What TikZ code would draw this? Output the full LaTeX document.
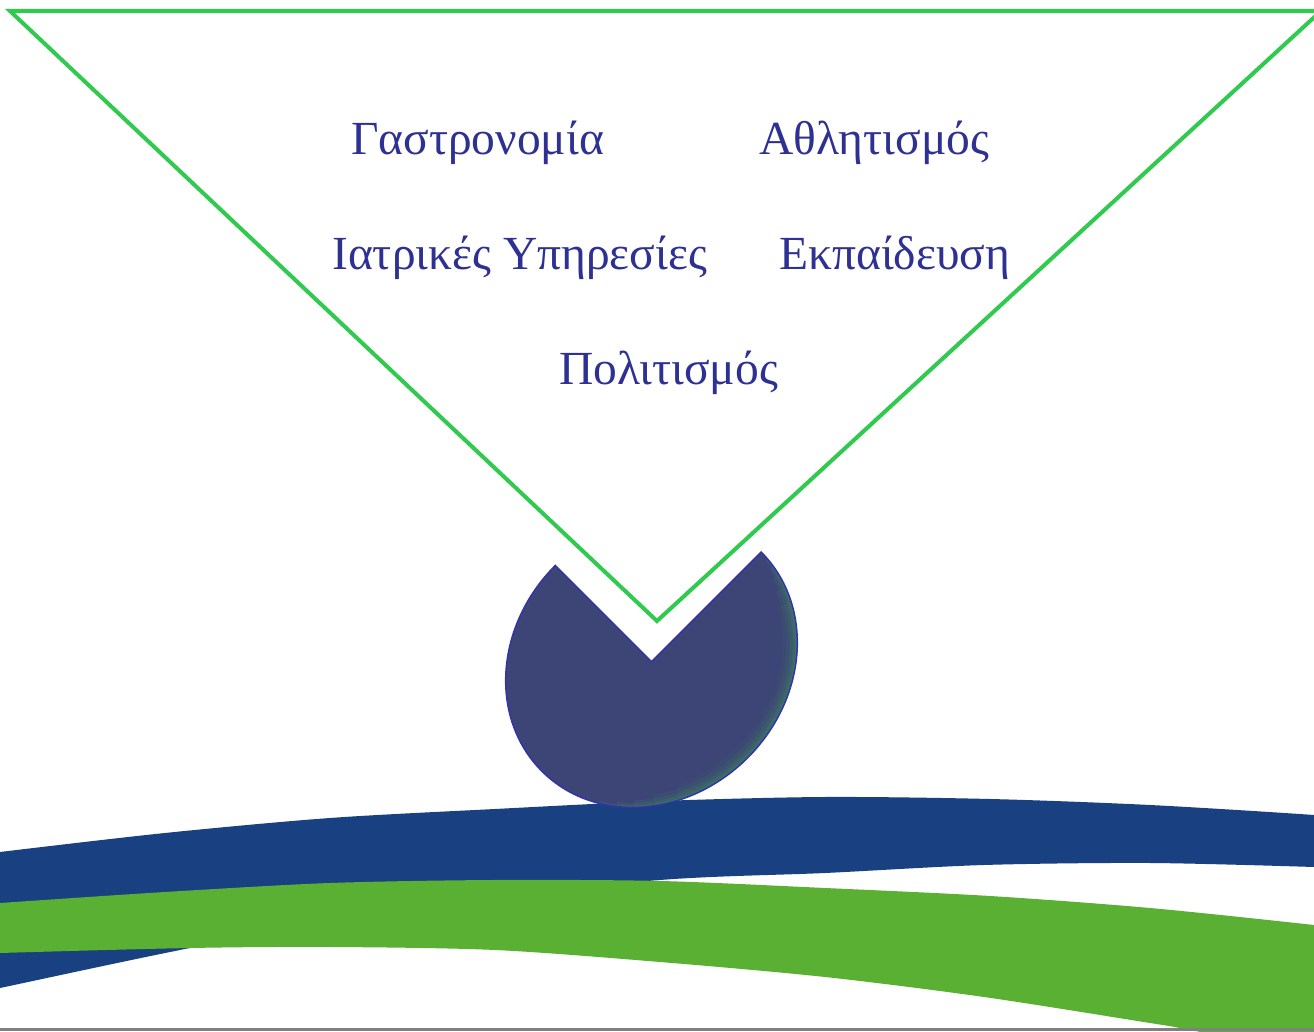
\documentclass[tikz,border=0pt]{standalone}
\usepackage{fontspec}
\setmainfont{Liberation Serif}
\definecolor{trigreen}{RGB}{48,202,78}
\definecolor{txtblue}{RGB}{46,49,146}
\definecolor{bandblue}{RGB}{25,64,128}
\definecolor{bandgreen}{RGB}{90,176,50}
\definecolor{pacfill}{RGB}{61,68,118}
\definecolor{pacedge}{RGB}{50,52,170}
\definecolor{glow}{RGB}{60,150,90}
\begin{document}
\begin{tikzpicture}[x=1pt,y=1pt,
  lbl/.style={text=txtblue, font=\fontsize{47.5}{57}\selectfont, inner sep=0pt, anchor=base west},
  triline/.style={draw=trigreen, line width=4, line join=miter},
  blueband/.style={fill=bandblue},
  greenband/.style={fill=bandgreen},
  baseline rule/.style={draw=gray, line width=3}]
\useasboundingbox (0,0) rectangle (1314,1031);
\fill[white] (0,0) rectangle (1314,1031);

% bottom bands
\begin{scope}
\clip (0,0) rectangle (1314,1031);
\fill[blueband] plot[smooth] coordinates {(-10,177) (0,179) (165,198) (330,213) (495,222) (660,230) (825,234) (990,232) (1150,226) (1314,216) (1330,213)}
  -- (1330,163)
  -- plot[smooth] coordinates {(1314,164) (1150,168) (984,166) (825,158) (660,151) (425,127) (190,83) (0,43) (-10,41)}
  -- cycle;
\fill[greenband] plot[smooth] coordinates {(-10,127) (0,128) (165,139) (330,148) (495,151) (660,150) (825,143) (990,135) (1150,123) (1314,106) (1330,103)}
  -- (1330,-20)
  -- plot[smooth] coordinates {(1250,-11) (1180,3) (1150,8) (984,34) (825,54) (660,69) (495,81) (330,84) (190,83) (0,78) (-10,77)}
  -- cycle;
\end{scope}

% triangle
\draw[triline] (10,1020) -- (1321,1020) -- (657,410) -- cycle;

% pie shape (rotated ellipse with a quarter cut out)
\coordinate (N) at (651.5,369.4);
\begin{scope}[shift={(N)}, rotate=45]
\def\pacpath{(0,0) -- (0,136) arc[start angle=90,end angle=360,x radius=155,y radius=136] -- cycle}
\fill[pacfill] \pacpath;
\begin{scope}
\clip \pacpath;
\foreach \w/\o/\s/\e in {30/0.08/240/335,22/0.10/230/342,15/0.13/222/348,9/0.18/215/352,4/0.28/208/356}{
  \draw[glow, line width=\w, opacity=\o] (\s:155 and 136) arc[start angle=\s,end angle=\e,x radius=155,y radius=136];
}
\end{scope}
\draw[pacedge, line width=1.5, line join=miter] \pacpath;
\end{scope}

% labels
\node[lbl] (gastro) at (351,876) {Γαστρονομία};
\node[lbl] (athl) at (759,876) {Αθλητισμός};
\node[lbl] (iatr) at (332,761) {Ιατρικές Υπηρεσίες};
\node[lbl] (ekp) at (779,761) {Εκπαίδευση};
\node[lbl] (polit) at (559,646) {Πολιτισμός};

% bottom grey rule
\draw[baseline rule] (0,1.5) -- (1314,1.5);
\end{tikzpicture}
\end{document}
